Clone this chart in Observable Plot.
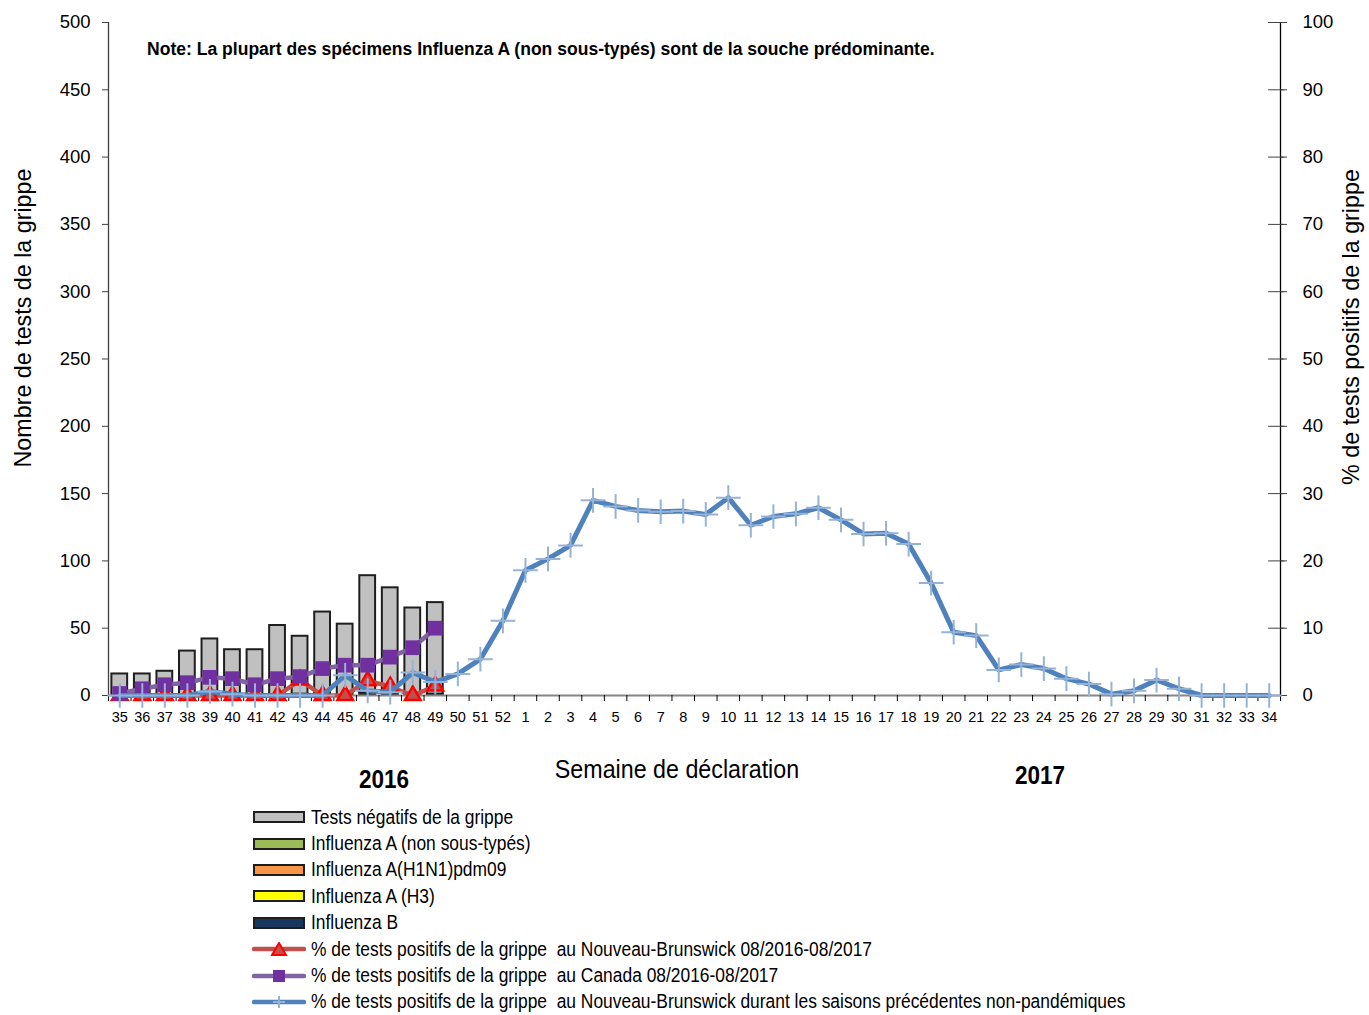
<!DOCTYPE html>
<html><head><meta charset="utf-8">
<script src="https://cdn.jsdelivr.net/npm/d3@7"></script>
<script src="https://cdn.jsdelivr.net/npm/@observablehq/plot@0.6"></script>
<style>
body{margin:0;background:#fff;font-family:"Liberation Sans Narrow","Arial Narrow","Liberation Sans",sans-serif;color:#000;}
#wrap{position:relative;width:1369px;height:1015px;overflow:hidden;}
#chart{position:absolute;left:0;top:0;}
.lbl{position:absolute;white-space:nowrap;}
.note{position:absolute;left:147px;top:39px;font-size:18px;font-weight:bold;white-space:nowrap;transform:scaleX(0.975);transform-origin:left center;}
#legend{position:absolute;left:252px;top:804px;}
.li{height:26.4px;display:flex;align-items:center;font-size:20px;white-space:nowrap;}
.li svg{margin-right:5px;flex:none;}
.li span{display:inline-block;transform:scaleX(0.87);transform-origin:left center;}
</style></head><body>
<div id="wrap">
<div id="chart"></div>
<div class="note">Note: La plupart des spécimens Influenza A (non sous-typés) sont de la souche prédominante.</div>
<div class="lbl" style="left:23px;top:318px;font-size:24px;transform:translate(-50%,-50%) rotate(-90deg) scaleX(0.97);">Nombre de tests de la grippe</div>
<div class="lbl" style="left:1351px;top:327px;font-size:24px;transform:translate(-50%,-50%) rotate(-90deg) scaleX(0.97);">% de tests positifs de la grippe</div>
<div class="lbl" style="left:677px;top:769px;font-size:25px;transform:translate(-50%,-50%) scaleX(0.93);">Semaine de déclaration</div>
<div class="lbl" style="left:384px;top:779px;font-size:25px;font-weight:bold;transform:translate(-50%,-50%) scaleX(0.9);">2016</div>
<div class="lbl" style="left:1040px;top:775px;font-size:25px;font-weight:bold;transform:translate(-50%,-50%) scaleX(0.9);">2017</div>
<div id="legend"></div>
</div>
<script>
// ---- data ----
const weeks = ["35","36","37","38","39","40","41","42","43","44","45","46","47","48","49","50","51","52",
  "1","2","3","4","5","6","7","8","9","10","11","12","13","14","15","16","17","18","19","20","21","22",
  "23","24","25","26","27","28","29","30","31","32","33","34"];
const reportedWeeks = ["35","36","37","38","39","40","41","42","43","44","45","46","47","48","49"];
const totalTests   = [16,16,18,33,42,34,34,52,44,62,53,89,80,65,69];
const fluANonTyped = [0,0,0,0,0,0,0,0,0,0,0,0,0,0,0];
const fluAH1N1     = [0,0,0,0,0,0,0,0,0,0,0,0,0,0,0];
const fluAH3       = [0,0,0,0,0,0,0,0,0,0,0,0,0,0,0];
const fluB         = [0,0,0,0,0,0,0,0,1,0,0,2,1,0,1];
const pctNB        = [0,0,0,0,0,0,0,0,2.3,0,0,2.2,1.3,0,1.4];
const pctCanada    = [0.3,1.0,1.6,1.9,2.7,2.5,1.6,2.5,2.8,4.0,4.5,4.5,5.7,7.1,10.0];
const pctHistorical = [0,0,0,0,0.6,0.2,0,0,0,0,3.0,0.7,0.5,3.4,2.0,3.2,5.4,11.1,
  18.6,20.3,22.3,29.0,28.1,27.5,27.3,27.4,26.9,29.4,25.3,26.6,27.0,27.9,26.1,24.0,24.1,22.5,16.7,
  9.4,8.9,3.8,4.6,4.0,2.5,1.7,0.2,0.7,2.3,1.0,0,0,0,0];
const countTicks = [0,50,100,150,200,250,300,350,400,450,500];
const pctTicks = [0,10,20,30,40,50,60,70,80,90,100];

const seriesNames = ["Influenza B","Influenza A (H3)","Influenza A(H1N1)pdm09","Influenza A (non sous-typés)","Tests négatifs de la grippe"];
const seriesColors = ["#17375e","#ffff00","#f79646","#9bbb59","#c0c0c0"];
const lineNames = [
  "% de tests positifs de la grippe  au Nouveau-Brunswick 08/2016-08/2017",
  "% de tests positifs de la grippe  au Canada 08/2016-08/2017",
  "% de tests positifs de la grippe  au Nouveau-Brunswick durant les saisons précédentes non-pandémiques"];

// ---- build tables ----
const barRows = [];
reportedWeeks.forEach((w,i)=>{
  const pos = fluB[i]+fluAH3[i]+fluAH1N1[i]+fluANonTyped[i];
  barRows.push({week:w,type:seriesNames[0],value:fluB[i]});
  barRows.push({week:w,type:seriesNames[1],value:fluAH3[i]});
  barRows.push({week:w,type:seriesNames[2],value:fluAH1N1[i]});
  barRows.push({week:w,type:seriesNames[3],value:fluANonTyped[i]});
  barRows.push({week:w,type:seriesNames[4],value:totalTests[i]-pos});
});
const nbRows = reportedWeeks.map((w,i)=>({week:w,pct:pctNB[i]}));
const caRows = reportedWeeks.map((w,i)=>({week:w,pct:pctCanada[i]}));
const hiRows = weeks.map((w,i)=>({week:w,pct:pctHistorical[i]}));

const W=1369, H=800, mL=108, mR=89, mT=22, mB=105;
const step=(W-mL-mR)/weeks.length;
const K = 5; // 100% <-> 500 tests
const font = '"Liberation Sans Narrow","Arial Narrow","Liberation Sans",sans-serif';

const chart = Plot.plot({
  width:W, height:H, marginLeft:mL, marginRight:mR, marginTop:mT, marginBottom:mB,
  style:{fontFamily:font, background:"transparent", color:"#000"},
  x:{type:"band", domain:weeks, paddingInner:0.3, paddingOuter:0.15, round:false, axis:null},
  y:{domain:[0,500], axis:null},
  color:{domain:seriesNames, range:seriesColors},
  marks:[
    Plot.barY(barRows.filter(d=>d.value>0), {x:"week", y:"value", fill:"type", stroke:"#1e1e1e", strokeWidth:2}),
    // axes
    Plot.ruleX([0],{x:()=>weeks[0], y1:0, y2:500, dx:-step/2, stroke:"#404040", strokeWidth:1.3}),
    Plot.ruleX([0],{x:()=>weeks[weeks.length-1], y1:0, y2:500, dx:step/2, stroke:"#000", strokeWidth:1.3}),
    Plot.ruleY([0],{stroke:"#868686", strokeWidth:2}),
    Plot.ruleX(weeks,{x:d=>d, y1:0, y2:0, dx:-step/2, insetBottom:-6, stroke:"#000"}),
    Plot.ruleX([weeks[weeks.length-1]],{x:d=>d, y1:0, y2:0, dx:step/2, insetBottom:-6, stroke:"#000"}),
    Plot.axisX({tickSize:0, tickPadding:16, fontSize:14.5, label:null}),
    Plot.axisY(countTicks,{anchor:"left", tickSize:6, tickPadding:12, fontSize:18.5, label:null, stroke:"#404040"}),
    Plot.axisY(pctTicks.map(v=>v*K),{anchor:"right", tickSize:6, tickPadding:16, fontSize:18.5, label:null, tickFormat:d=>d/K, stroke:"#404040"}),
    Plot.tickY(pctTicks.map(v=>v*K),{x:()=>weeks[weeks.length-1], dx:step/2-4, stroke:"#404040"}),
    // NB current season
    Plot.line(nbRows,{x:"week", y:d=>d.pct*K, stroke:"#c0504d", strokeWidth:4.5}),
    Plot.dot(nbRows,{x:"week", y:d=>d.pct*K, symbol:"triangle", r:5.8, fill:"#c0504d", stroke:"#ff0000", strokeWidth:2.5}),
    // Canada
    Plot.line(caRows,{x:"week", y:d=>d.pct*K, stroke:"#8064a2", strokeWidth:4.5}),
    Plot.dot(caRows,{x:"week", y:d=>d.pct*K, symbol:"square", r:8.3, fill:"#7030a0", stroke:"none"}),
    // historical
    Plot.line(hiRows,{x:"week", y:d=>d.pct*K, stroke:"#4f81bd", strokeWidth:5}),
    Plot.dot(hiRows,{x:"week", y:d=>d.pct*K, symbol:"plus", r:8, stroke:"#95b3d7", strokeWidth:2})
  ]
});
document.getElementById("chart").appendChild(chart);

// ---- legend ----
const leg = document.getElementById("legend");
const boxOrder = [4,3,2,1,0];
boxOrder.forEach(i=>{
  const div=document.createElement("div"); div.className="li";
  div.innerHTML=`<svg width="54" height="14"><rect x="2" y="2" width="50" height="10" fill="${seriesColors[i]}" stroke="#1e1e1e" stroke-width="2"/></svg><span>${seriesNames[i]}</span>`;
  leg.appendChild(div);
});
const lineStyles=[
  {c:"#c0504d", m:`<path d="M27,1 L34,13 L20,13 Z" fill="#c0504d" stroke="#ff0000" stroke-width="2"/>`},
  {c:"#8064a2", m:`<rect x="21" y="1" width="12" height="12" fill="#7030a0"/>`},
  {c:"#4f81bd", m:`<path d="M27,1 V13 M21,7 H33" stroke="#95b3d7" stroke-width="2"/>`}
];
lineStyles.forEach((s,i)=>{
  const div=document.createElement("div"); div.className="li";
  div.innerHTML=`<svg width="54" height="14"><line x1="2" y1="7" x2="52" y2="7" stroke="${s.c}" stroke-width="4.5" stroke-linecap="round"/>${s.m}</svg><span>${lineNames[i].replace(/  /g,"&nbsp; ")}</span>`;
  leg.appendChild(div);
});
</script>
</body></html>
